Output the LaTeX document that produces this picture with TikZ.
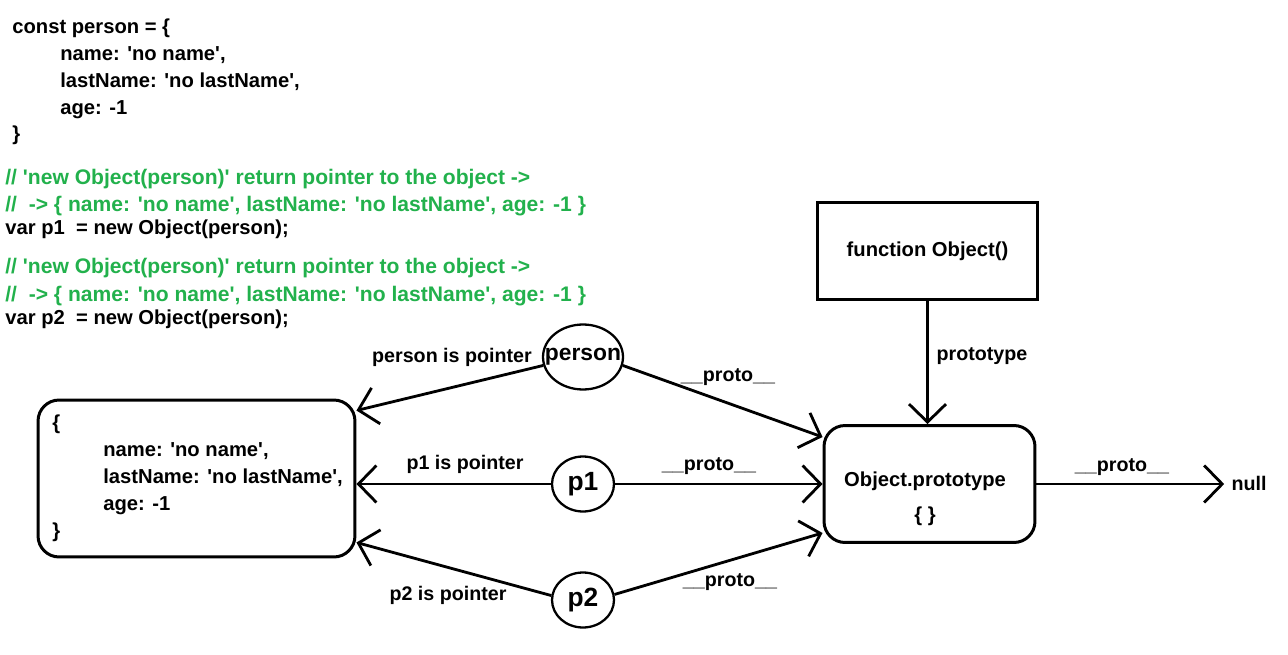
\documentclass[tikz,border=0pt]{standalone}
\usepackage{fontspec}
\setmainfont{Liberation Sans}
\usetikzlibrary{arrows.meta,shapes.geometric}
\definecolor{codegreen}{RGB}{34,177,76}
\newcommand{\squote}{\textquotesingle}
\tikzset{
    code/.style={anchor=base west, inner sep=0pt, font=\bfseries\fontsize{11.5}{13}\selectfont},
    comment/.style={code, text=codegreen, font=\bfseries\fontsize{12}{14}\selectfont},
    lbl/.style={inner sep=0pt, font=\bfseries\fontsize{11.2}{13}\selectfont},
    ptr/.style={ellipse, draw, line width=1.3pt, inner sep=0pt},
    box/.style={draw, line width=1.7pt},
    link/.style={line width=1.6pt, -{Straight Barb[length=3.6mm,width=7.4mm]}}
}
\begin{document}
\begin{tikzpicture}[x=0.02cm, y=-0.02cm]
    \useasboundingbox (0,0) rectangle (1288,655);
    % Code
    \node[code] (const) at (12,34) {const person = \{};
    \foreach \txt/\y in {{name: \squote no name\squote,}/61, {lastName: \squote no lastName\squote,}/88, {age: -1}/115} {
        \node[code] at (60,\y) {\txt};
    }
    \node[code] (close) at (12,141) {\}};
    \foreach \n/\y in {1/185, 2/274} {
        \node[comment] (com-\n a) at (5,\y) {// \squote new Object(person)\squote\ return pointer to the object ->};
        \node[comment] (com-\n b) at (5,\y+27) {//\ \ -> \{ name: \squote no name\squote, lastName: \squote no lastName\squote, age: -1 \}};
        \node[code] (var-\n) at (5,\y+50) {var p\n\ \ = new Object(person);};
    }
    % Object
    \node[box, rounded corners=12pt, minimum width=6.34cm, minimum height=3.14cm] (obj) at (196.5,478.5) {};
    \node[code] at (52,429) {\{};
    \foreach \txt/\y in {{name: \squote no name\squote,}/456, {lastName: \squote no lastName\squote,}/483, {age: -1}/510} {
        \node[code] at (103,\y) {\txt};
    }
    \node[code] at (52,537) {\}};
    % Pointers
    \node[ptr, minimum width=1.6cm, minimum height=1.3cm, font=\bfseries\fontsize{13}{15}\selectfont] (person) at (583,357) {\makebox[0pt]{person}};
    \foreach \i/\y in {1/484, 2/600} {
        \node[ptr, minimum width=1.24cm, minimum height=1.1cm, font=\bfseries\fontsize{15}{17}\selectfont] (p\i) at (583,\y) {\makebox[0pt]{p\i}};
    }
    % Prototype
    \node[box, minimum width=4.42cm, minimum height=1.96cm, font=\bfseries\fontsize{11.5}{13}\selectfont] (func) at (927.5,251) {function Object()};
    \node[box, rounded corners=12pt, minimum width=4.22cm, minimum height=2.34cm] (proto) at (929.5,484) {};
    \node[lbl, font=\bfseries\fontsize{11.5}{13}\selectfont] at (925,481) {Object.prototype};
    \node[lbl, font=\bfseries\fontsize{11.5}{13}\selectfont] at (925,516) {\{ \}};
    \node[lbl] (null) at (1249,483) {null};
    % Arrows
    \draw[link] (func) -- (func |- proto.north);
    \draw[link] (proto.east) -- ([xshift=-0.14cm]proto.east -| null.west);
    \draw[link] (person.192) -- ([yshift=-0.24cm]obj.north east);
    \draw[link] (person.-12) -- ([yshift=-0.26cm]proto.north west);
    \draw[link] (p1.west) -- (p1.west -| obj.east);
    \draw[link] (p1) -- (proto.west);
    \draw[link] (p2.172) -- ([yshift=0.32cm]obj.south east);
    \draw[link] (p2.10) -- ([yshift=0.22cm]proto.south west);
    % Labels
    \node[lbl] at (452,357) {person is pointer};
    \node[lbl] at (465,464) {p1 is pointer};
    \node[lbl] at (448,595) {p2 is pointer};
    \foreach \x/\y in {728/377, 709/466, 730/582, 1122/467} {
        \node[lbl] at (\x,\y) {\_\_proto\_\_};
    }
    \node[lbl] at (982,356) {prototype};
\end{tikzpicture}
\end{document}
